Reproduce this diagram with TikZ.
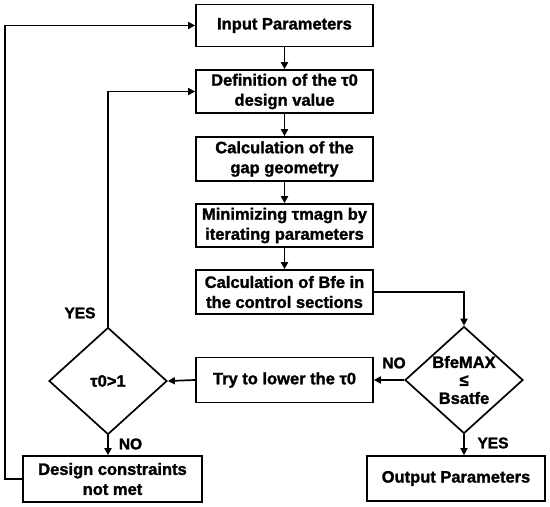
\documentclass[tikz,border=0pt]{standalone}
\usepackage{fontspec}
\setmainfont[BoldFeatures={FakeBold=1.5}]{Liberation Sans}
\usetikzlibrary{arrows.meta,shapes.geometric}
\begin{document}
\begin{tikzpicture}[x=1pt,y=-1pt,
  every node/.style={font=\bfseries\fontsize{16.5}{20}\selectfont},
  box/.style={draw, line width=1.7pt, inner sep=0pt, align=center, minimum width=177pt, minimum height=43pt},
  dec/.style={draw, diamond, line width=1.7pt, inner sep=0pt, aspect=1.1, minimum width=118pt, minimum height=107pt, align=center, font=\bfseries\fontsize{16.5}{18}\selectfont},
  conn/.style={line width=1.7pt, -{Triangle[length=7pt,width=7pt]}},
  lab/.style={inner sep=0pt, font=\bfseries\fontsize{15.5}{18}\selectfont}]
\useasboundingbox (0,0) rectangle (550,507);
\node[box, minimum height=42pt] (input) at (284.5,25.5) {Input Parameters};
\node[box] (def) at (284.5,91.5) {Definition of the τ0\\design value};
\node[box, minimum height=44pt] (gap) at (284.5,159) {Calculation of the\\gap geometry};
\node[box] (mini) at (284.5,225.5) {Minimizing τmagn by\\iterating parameters};
\node[box, minimum height=44pt] (bfe) at (284.5,292) {Calculation of Bfe in\\the control sections};
\node[box, minimum height=45pt] (try) at (284.5,380) {Try to lower the τ0};
\node[dec] (d1) at (108,381) {τ0>1};
\node[dec] (d2) at (464,380) {BfeMAX\\≤\\Bsatfe};
\node[box, minimum width=179pt, minimum height=46pt] (design) at (112.5,479) {Design constraints\\not met};
\node[box, minimum width=178pt, minimum height=45pt] (output) at (456,478.5) {Output Parameters};
\coordinate (lc) at (5,0);
\draw[conn] (input) -- (def);
\draw[conn] (def) -- (gap);
\draw[conn] (gap) -- (mini);
\draw[conn] (mini) -- (bfe);
\draw[conn] (bfe.east) -| (d2.north);
\draw[conn] (d2.west) -- (try.east);
\draw[conn] (try.west) -- (d1.east);
\draw[conn] (d1.south) -- (d1.south |- design.north);
\draw[conn] (d2.south) -- (d2.south |- output.north);
\draw[conn] (d1.north) |- (def.west);
\draw[conn] (design.west) -- (design.west -| lc) |- (input.west);
\node[lab] (yes1) at (80,313) {YES};
\node[lab] (no1) at (130.5,444) {NO};
\node[lab] (no2) at (394,363) {NO};
\node[lab] (yes2) at (493,443) {YES};
\end{tikzpicture}
\end{document}
